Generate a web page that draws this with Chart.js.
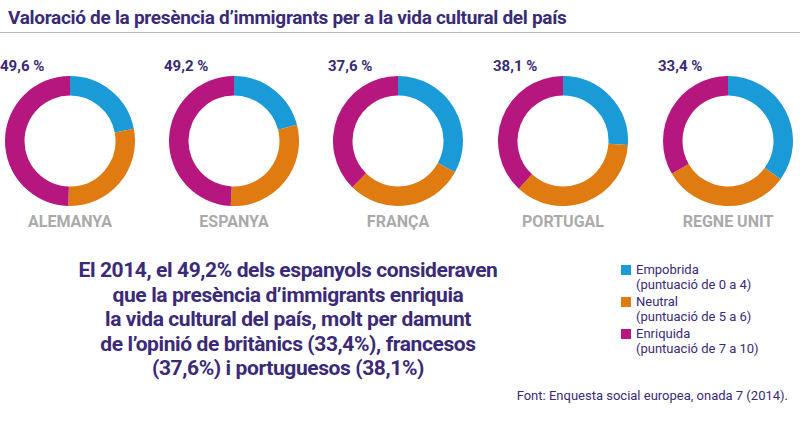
<!DOCTYPE html>
<html><head><meta charset="utf-8">
<script src="https://cdn.jsdelivr.net/npm/chart.js@4"></script>
<style>
body{margin:0;width:800px;height:428px;background:#fff;font-family:"Liberation Sans Narrow",Roboto,sans-serif;position:relative;overflow:hidden}
.title{position:absolute;left:8px;top:6px;font-size:19px;font-weight:bold;color:#3a2a78;letter-spacing:-0.3px}
.rule{position:absolute;left:0;top:32px;width:800px;border-top:1px solid #bbb}
.d{position:absolute;top:76px;width:130px;height:130px}
.pct{position:absolute;top:57px;font-size:15px;font-weight:bold;color:#3a2a78}
.cty{position:absolute;top:212px;width:160px;text-align:center;font-size:16px;font-weight:bold;color:#aaa}
.main{position:absolute;left:68px;top:258px;width:440px;text-align:center;font-size:21px;font-weight:bold;color:#3a2a78;line-height:24.5px;letter-spacing:-0.4px;white-space:nowrap}
.leg{position:absolute;left:636px;font-size:13px;color:#3a2a78;line-height:15px}
.sw{position:absolute;left:-15px;top:3px;width:10px;height:10px}
.src{position:absolute;right:12px;top:388px;font-size:13px;color:#3a2a78}
</style></head><body>
<div class="title">Valoració de la presència d’immigrants per a la vida cultural del país</div>
<div class="rule"></div>
<div id="wrap"></div>
<div class="main">El 2014, el 49,2% dels espanyols consideraven<br>que la presència d’immigrants enriquia<br>la vida cultural del país, molt per damunt<br>de l’opinió de britànics (33,4%), francesos<br>(37,6%) i portuguesos (38,1%)</div>
<div class="leg" style="top:262px"><span class="sw" style="background:#1a9ad6"></span>Empobrida<br>(puntuació de 0 a 4)</div>
<div class="leg" style="top:294px"><span class="sw" style="background:#e07b12"></span>Neutral<br>(puntuació de 5 a 6)</div>
<div class="leg" style="top:326px"><span class="sw" style="background:#b5177e"></span>Enriquida<br>(puntuació de 7 a 10)</div>
<div class="src">Font: Enquesta social europea, onada 7 (2014).</div>
<script>
const countries = ['ALEMANYA', 'ESPANYA', 'FRANÇA', 'PORTUGAL', 'REGNE UNIT'];
const empobrida = [22.0, 21.0, 33.0, 26.0, 35.0];
const neutral = [28.4, 29.8, 29.4, 35.9, 31.6];
const enriquida = [49.6, 49.2, 37.6, 38.1, 33.4];
const pctLabels = ['49,6 %', '49,2 %', '37,6 %', '38,1 %', '33,4 %'];
const colors = ['#1a9ad6', '#e07b12', '#b5177e'];
const centers = [70, 234, 398, 563, 728];
const wrap = document.getElementById('wrap');
countries.forEach(function(c, i) {
    const x = centers[i];
    const div = document.createElement('div');
    div.className = 'd'; div.style.left = (x - 65) + 'px';
    const cv = document.createElement('canvas');
    div.appendChild(cv); wrap.appendChild(div);
    const p = document.createElement('div');
    p.className = 'pct'; p.style.left = (x - 70) + 'px'; p.textContent = pctLabels[i];
    wrap.appendChild(p);
    const t = document.createElement('div');
    t.className = 'cty'; t.style.left = (x - 80) + 'px'; t.textContent = c;
    wrap.appendChild(t);
    new Chart(cv, {
        type: 'doughnut',
        data: {
            labels: ['Empobrida', 'Neutral', 'Enriquida'],
            datasets: [{
                data: [empobrida[i], neutral[i], enriquida[i]],
                backgroundColor: colors,
                borderWidth: 0
            }]
        },
        options: {
            responsive: true, maintainAspectRatio: false, animation: false,
            cutout: '70%',
            plugins: { legend: { display: false }, tooltip: { enabled: false } }
        }
    });
});
</script>
</body></html>
